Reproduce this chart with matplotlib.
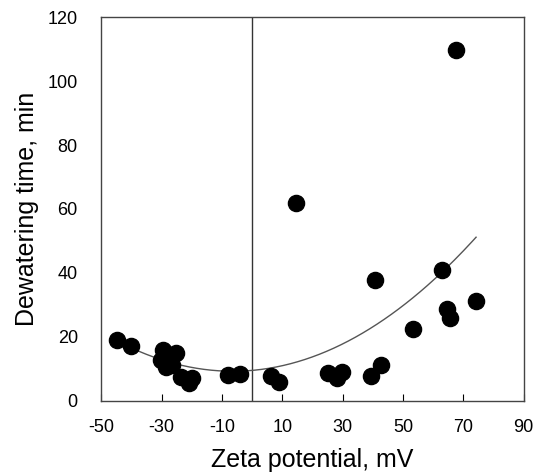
import numpy as np
import matplotlib
matplotlib.use('Agg')
import matplotlib.pyplot as plt

plt.rcParams['font.family'] = ['Liberation Sans', 'DejaVu Sans']
plt.rcParams['axes.unicode_minus'] = False

zeta = [-44.7, -40.2, -29.7, -25.2, -30.3, -28.6, -26.5, -23.7, -21.0, -19.8,
        -8.1, -4.2, 6.3, 8.9, 14.6, 25.2, 28.1, 29.6, 39.5, 40.7,
        42.8, 53.4, 62.8, 64.5, 65.4, 67.4, 74.2]
dewater = [19.0, 17.0, 15.9, 15.1, 12.8, 10.7, 11.3, 7.3, 5.5, 7.1,
           8.1, 8.4, 7.8, 6.0, 62.0, 8.6, 7.1, 9.0, 7.8, 37.8,
           11.3, 22.5, 40.9, 28.6, 25.8, 109.7, 31.2]
xticks = [-50, -30, -10, 10, 30, 50, 70, 90]
yticks = [0, 20, 40, 60, 80, 100, 120]

fig = plt.figure(figsize=(5.45, 4.76), dpi=100)
ax = fig.add_axes([0.186, 0.158, 0.775, 0.806])

# quadratic trend line over the data range
coef = np.polyfit(zeta, dewater, 2)
xf = np.linspace(min(zeta), max(zeta), 200)
ax.plot(xf, np.polyval(coef, xf), color='#555555', lw=1, zorder=2)

ax.scatter(zeta, dewater, s=135, color='black', zorder=3)
ax.axvline(0, color='#333333', lw=1, zorder=1)

ax.set_xlim(-50, 90)
ax.set_ylim(0, 120)
ax.set_xticks(xticks)
ax.set_yticks(yticks)
ax.tick_params(axis='x', direction='in', length=5, pad=13, labelsize=13)
ax.tick_params(axis='y', length=0, pad=17, labelsize=13)
ax.set_xlabel('Zeta potential, mV', fontsize=18, labelpad=9)
ax.set_ylabel('Dewatering time, min', fontsize=18, labelpad=6)
for s in ax.spines.values():
    s.set_color('#444444')
    s.set_linewidth(1)

fig.savefig('out.png', dpi=100)
